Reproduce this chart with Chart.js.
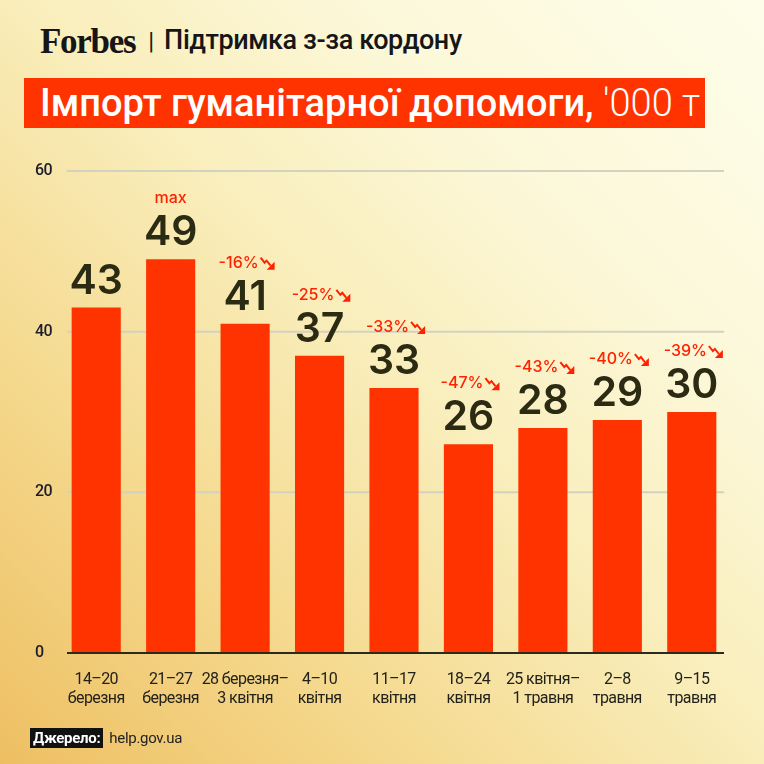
<!DOCTYPE html>
<html>
<head>
<meta charset="utf-8">
<script src="https://cdn.jsdelivr.net/npm/chart.js@4.4.1/dist/chart.umd.min.js"></script>
<style>
    html, body { margin: 0; padding: 0; }
    body {
        width: 764px; height: 764px; position: relative; overflow: hidden;
        background: linear-gradient(to top right, #eebf62 0%, #f5da90 28%, #f9eebc 52%, #fcf8da 74%, #fdfde9 100%);
        font-family: Roboto, sans-serif;
    }
    #chart { position: absolute; left: 0; top: 0; }
    .header { position: absolute; left: 40px; top: 22px; white-space: nowrap; color: #161616; }
    .logo { font-family: 'Liberation Serif', serif; font-weight: bold; font-size: 35px; letter-spacing: -1.3px; }
    .sep { font-size: 24px; margin: 0 10px 0 13px; position: relative; top: -4px; }
    .sub { font-size: 27px; font-weight: 500; letter-spacing: -0.4px; position: relative; top: -4px; }
    .title-box {
        position: absolute; left: 24px; top: 78px; width: 681px; height: 50px; background: #ff3300;
        color: #fff; white-space: nowrap; box-sizing: border-box; padding-left: 16px;
        font-size: 38px; font-weight: 500; letter-spacing: 0px; line-height: 50px;
    }
    .title-box .light { font-weight: 300; }
    .source { position: absolute; left: 30px; top: 729px; white-space: nowrap; font-size: 15px; letter-spacing: -0.3px; }
    .source .tag { background: #111; color: #fff; font-weight: bold; padding: 1px 3px; }
    .source .url { color: #222; margin-left: 6px; }
</style>
</head>
<body>
<div class="header"><span class="logo">Forbes</span><span class="sep">|</span><span class="sub">Підтримка з-за кордону</span></div>
<div class="title-box">Імпорт гуманітарної допомоги, <span class="light">'000 т</span></div>
<canvas id="chart" width="764" height="764"></canvas>
<div class="source"><span class="tag">Джерело:</span><span class="url">help.gov.ua</span></div>

<script>
// --- Data ---
const weeks = [
    ['14–20', 'березня'], ['21–27', 'березня'], ['28 березня–', '3 квітня'],
    ['4–10', 'квітня'], ['11–17', 'квітня'], ['18–24', 'квітня'],
    ['25 квітня–', '1 травня'], ['2–8', 'травня'], ['9–15', 'травня']
];
const imports = [43, 49, 41, 37, 33, 26, 28, 29, 30];
const changes = ['', 'max', '-16%', '-25%', '-33%', '-47%', '-43%', '-40%', '-39%'];
const yMin = 0, yMax = 60, yStep = 20;

const BAR_RED = '#ff3300';
const NOTE_RED = '#ff2200';
const INK = '#2b2a12';

// tighter tracking for the axis text (no condensed font available)
const trackingPlugin = {
    id: 'tracking',
    beforeDraw(chart) { chart.ctx.letterSpacing = '-0.6px'; },
    beforeDatasetsDraw(chart) { chart.ctx.letterSpacing = '0px'; }
};

// --- Grid lines (drawn from the y scale) ---
const gridPlugin = {
    id: 'gridLines',
    beforeDatasetsDraw(chart) {
        const { ctx, chartArea, scales: { y } } = chart;
        ctx.save();
        ctx.lineWidth = 2;
        ctx.strokeStyle = '#d3d1c0';
        y.ticks.forEach(t => {
            if (t.value === 0) return;
            const py = y.getPixelForValue(t.value);
            ctx.beginPath(); ctx.moveTo(chartArea.left + 8, py); ctx.lineTo(chartArea.right - 5, py); ctx.stroke();
        });
        ctx.restore();
    },
    afterDatasetsDraw(chart) {
        const { ctx, chartArea, scales: { y } } = chart;
        const py = y.getPixelForValue(0);
        ctx.save();
        ctx.lineWidth = 2;
        ctx.strokeStyle = '#2b2a1e';
        ctx.beginPath(); ctx.moveTo(chartArea.left + 8, py); ctx.lineTo(chartArea.right - 5, py); ctx.stroke();
        ctx.restore();
    }
};

// --- Value labels + change notes ---
function drawDownArrow(ctx, x, y) {
    ctx.save();
    ctx.strokeStyle = NOTE_RED; ctx.fillStyle = NOTE_RED;
    ctx.lineWidth = 2; ctx.lineJoin = 'miter';
    ctx.beginPath();
    ctx.moveTo(x, y - 10); ctx.lineTo(x + 4, y - 5); ctx.lineTo(x + 6, y - 7); ctx.lineTo(x + 10, y - 2);
    ctx.stroke();
    ctx.beginPath();
    ctx.moveTo(x + 14, y + 2); ctx.lineTo(x + 14, y - 6); ctx.lineTo(x + 6, y + 2); ctx.closePath();
    ctx.fill();
    ctx.restore();
}

const labelPlugin = {
    id: 'barLabels',
    afterDatasetsDraw(chart) {
        const { ctx } = chart;
        const meta = chart.getDatasetMeta(0);
        meta.data.forEach((bar, i) => {
            ctx.save();
            ctx.textAlign = 'center';
            ctx.textBaseline = 'alphabetic';
            ctx.fillStyle = INK;
            ctx.font = '600 41px Inter, Roboto, sans-serif';
            ctx.fillText(String(imports[i]), bar.x, bar.y - 14);

            const note = changes[i];
            if (note) {
                ctx.font = '500 16px Inter, Roboto, sans-serif';
                ctx.fillStyle = NOTE_RED;
                const ny = bar.y - 56;
                if (note === 'max') {
                    ctx.fillText(note, bar.x, ny);
                } else {
                    const w = ctx.measureText(note).width;
                    const total = w + 17;
                    const x0 = bar.x + 2 - total / 2;
                    ctx.textAlign = 'left';
                    ctx.fillText(note, x0, ny);
                    drawDownArrow(ctx, x0 + w + 2, ny);
                }
            }
            ctx.restore();
        });
    }
};

new Chart(document.getElementById('chart'), {
    type: 'bar',
    data: {
        labels: weeks,
        datasets: [{
            data: imports,
            backgroundColor: BAR_RED,
            borderWidth: 0,
            categoryPercentage: 1,
            barPercentage: 0.66
        }]
    },
    options: {
        responsive: false,
        animation: false,
        layout: { padding: { left: 35, right: 35, top: 171, bottom: 39 } },
        plugins: { legend: { display: false }, tooltip: { enabled: false } },
        scales: {
            x: {
                grid: { display: false },
                border: { display: false },
                ticks: {
                    color: '#23221a', padding: 9, maxRotation: 0, autoSkip: false,
                    font: { family: 'Roboto, sans-serif', size: 16, lineHeight: 1.2 }
                },
                afterFit(scale) { scale.height = 72; }
            },
            y: {
                min: yMin, max: yMax,
                grid: { display: false },
                border: { display: false },
                ticks: {
                    stepSize: yStep, crossAlign: 'far', color: '#1c1c2c',
                    font: { family: 'Roboto, sans-serif', size: 16, weight: '500' }
                },
                afterFit(scale) { scale.width = 24; }
            }
        }
    },
    plugins: [trackingPlugin, gridPlugin, labelPlugin]
});
</script>
</body>
</html>
